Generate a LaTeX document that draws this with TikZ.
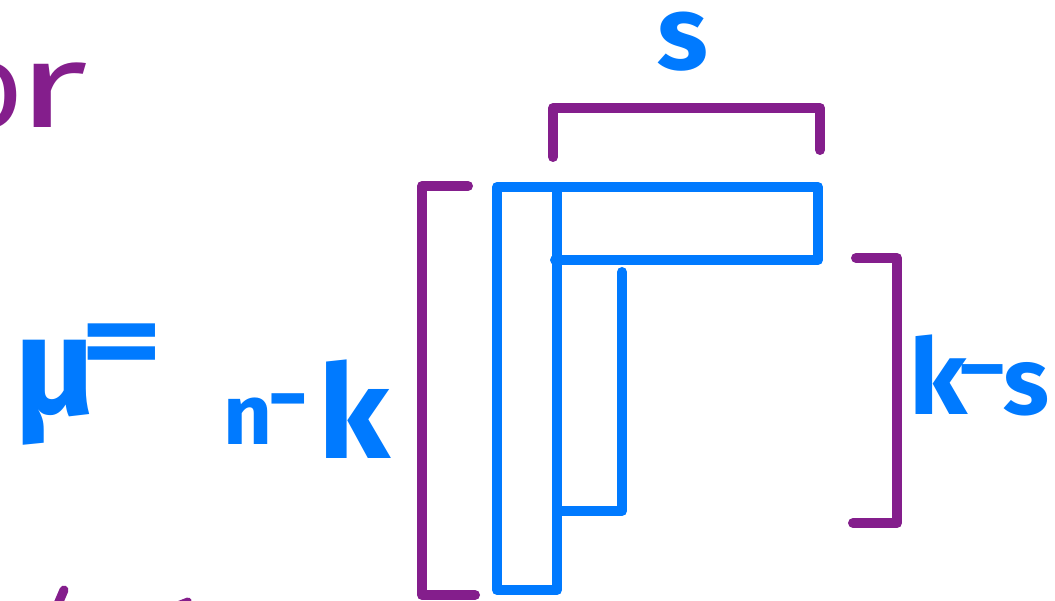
\documentclass[tikz,border=0pt]{standalone}
\usepackage{fontspec}
\setmainfont{Fira Sans}
\definecolor{pen}{RGB}{0,122,255}
\definecolor{ink}{RGB}{132,30,140}
\begin{document}
\begin{tikzpicture}[x=1pt,y=-1pt,
  bluestroke/.style={draw=pen,line width=10pt,line cap=round,line join=round},
  purplestroke/.style={draw=ink,line width=10pt,line cap=round,line join=round},
  hand/.style={inner sep=0pt,text=pen}]
\useasboundingbox[fill=white] (0,0) rectangle (1055,601);
% purple brackets
\draw[purplestroke] (553,157) -- (553,108) -- (820,108) -- (820,150);
\draw[purplestroke] (468,186) -- (422,186) -- (422,595) -- (475,595);
\draw[purplestroke] (856,258) -- (897,258) -- (897,523) -- (853,523);
% blue blocks
\draw[bluestroke] (497,187) rectangle (557,590);
\draw[bluestroke] (557,187) -- (818,187) -- (818,260) -- (555,260);
\draw[bluestroke] (622,272) -- (622,511) -- (560,511);
% labels
\node[hand,font=\bfseries\fontsize{105pt}{105pt}\selectfont,anchor=base] (s) at (683,70) {s};
\node[hand,font=\bfseries\fontsize{140pt}{140pt}\selectfont,anchor=base] (mu) at (55,415) {μ};
\node[hand,font=\bfseries\fontsize{110pt}{110pt}\selectfont,xscale=1.45] (eq) at (122,351) {=};
\node[hand,font=\bfseries\fontsize{85pt}{85pt}\selectfont,anchor=base] (n1) at (248,445) {n};
\node[hand,font=\bfseries\fontsize{85pt}{85pt}\selectfont,xscale=1.2] (d1) at (288,410) {-};
\node[hand,font=\bfseries\fontsize{130pt}{130pt}\selectfont,anchor=base] (k1) at (354,458) {k};
\node[hand,font=\bfseries\fontsize{105pt}{105pt}\selectfont,anchor=base] (k2) at (938,415) {k};
\node[hand,font=\bfseries\fontsize{80pt}{80pt}\selectfont,xscale=1.6] (d2) at (983,380) {-};
\node[hand,font=\bfseries\fontsize{95pt}{95pt}\selectfont,anchor=base] (s2) at (1026,415) {s};
\node[hand,text=ink,font=\fontsize{120pt}{120pt}\selectfont,anchor=base east] (or) at (88,128) {o\kern-8pt\scalebox{1.55}[1]{r}};
% cut-off fragments at the bottom edge
\draw[draw=ink,line width=9pt,line cap=round] (58,604) -- (64,590);
\draw[draw=ink,line width=7pt,line cap=round] (180,604) -- (188,601);
\end{tikzpicture}
\end{document}
